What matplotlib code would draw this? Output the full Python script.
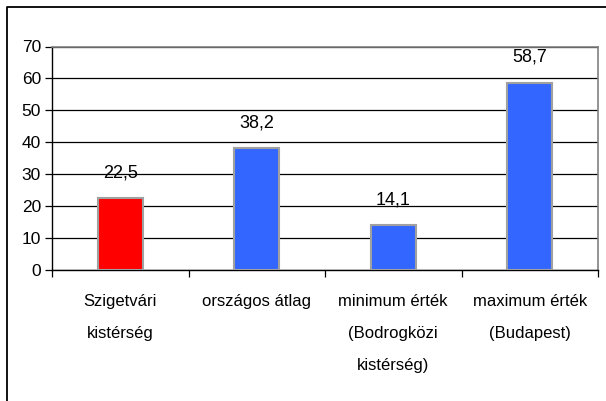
import matplotlib
matplotlib.use("Agg")
import matplotlib.pyplot as plt
from matplotlib.lines import Line2D

categories = ["Szigetvári\nkistérség", "országos átlag",
              "minimum érték\n(Bodrogközi\nkistérség)", "maximum érték\n(Budapest)"]
values = [22.5, 38.2, 14.1, 58.7]
value_labels = ["22,5", "38,2", "14,1", "58,7"]
colors = ["#FF0000", "#3366FF", "#3366FF", "#3366FF"]
yticks = [0, 10, 20, 30, 40, 50, 60, 70]

plt.rcParams['font.family'] = ['Liberation Sans', 'DejaVu Sans']

W, H = 606, 401
fig = plt.figure(figsize=(W/100, H/100), dpi=100)
# outer chart frame (only left and top edges visible in the crop)
fig.lines.append(Line2D([6.5/W, 6.5/W, 1.0], [0.0, (H-6.5)/H, (H-6.5)/H],
                        transform=fig.transFigure, color='black', linewidth=1.3))

ax = fig.add_axes([52/W, (H-270)/H, 546/W, 223.5/H])
x = list(range(len(values)))
ax.bar(x, values, width=0.33, color=colors, edgecolor='#A0A0A0', linewidth=1.5, zorder=3)
for xi, v, lab in zip(x, values, value_labels):
    ax.annotate(lab, (xi, v), xytext=(0, 12), textcoords='offset points',
                ha='center', va='bottom', fontsize=13)

ax.set_xlim(-0.5, 3.5)
ax.set_ylim(0, 70)
ax.set_yticks(yticks)
ax.set_yticklabels([str(t) for t in yticks], fontsize=12.5)
ax.yaxis.grid(True, color='black', linewidth=0.9, zorder=0)
ax.set_axisbelow(True)

ax.set_xticks([-0.5, 0.5, 1.5, 2.5, 3.5])
ax.set_xticklabels([])
ax.set_xticks(x, minor=True)
ax.set_xticklabels(categories, minor=True, fontsize=12, linespacing=2.45)
ax.tick_params(axis='x', which='minor', length=0, pad=17)
ax.tick_params(axis='x', which='major', length=5, width=0.9, direction='out')
ax.tick_params(axis='y', length=5, width=0.9, direction='out', pad=3)

for s in ['top', 'right']:
    ax.spines[s].set_color('#808080')
    ax.spines[s].set_linewidth(1.2)
for s in ['left', 'bottom']:
    ax.spines[s].set_color('black')
    ax.spines[s].set_linewidth(1.0)

fig.savefig("out.png", dpi=100)
